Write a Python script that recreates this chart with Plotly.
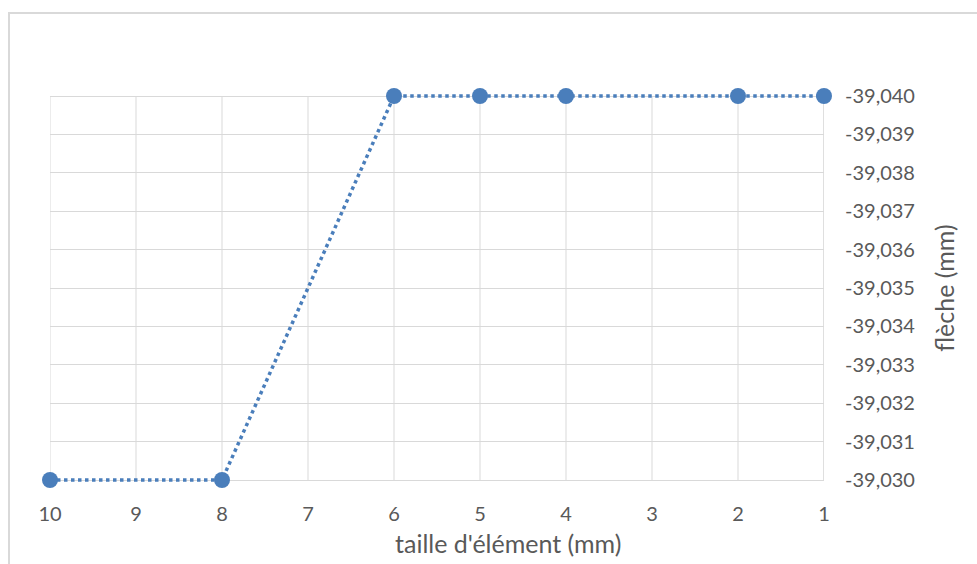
import plotly.graph_objects as go

# Deflection vs. element size
taille = [10, 8, 6, 5, 4, 2, 1]
fleche = [-39.030, -39.030, -39.040, -39.040, -39.040, -39.040, -39.040]

x_ticks = [10, 9, 8, 7, 6, 5, 4, 3, 2, 1]
y_ticks = [-39.030, -39.031, -39.032, -39.033, -39.034, -39.035,
           -39.036, -39.037, -39.038, -39.039, -39.040]
y_labels = [f"{v:.3f}".replace(".", ",") for v in y_ticks]

BLUE = "#4a7ebb"
GRID = "#d9d9d9"
TEXT = "#595959"
FONT = "Lato"

W, H = 977, 564
# outer gridlines sit at y=96 and y=480; the plot area is padded by a few
# pixels so the dotted series is not clipped along the top and bottom edges
PAD = 3
L, R, T, B = 50, 153, 96 - PAD, 84 - PAD
pw, ph = W - L - R, H - T - B
y_lo, y_hi = min(y_ticks), max(y_ticks)
y_pad = (y_hi - y_lo) / (ph - 2 * PAD) * PAD

fig = go.Figure()
fig.add_trace(go.Scatter(
    x=taille, y=fleche, mode="lines+markers",
    line=dict(color=BLUE, width=3.5, dash="3.5px,3.5px"),
    marker=dict(color=BLUE, size=16),
    cliponaxis=False,
    showlegend=False, hoverinfo="skip",
))

fig.update_layout(
    width=W, height=H,
    margin=dict(l=L, r=R, t=T, b=B, pad=0),
    paper_bgcolor="white", plot_bgcolor="white",
    font=dict(family=FONT, size=20, color=TEXT),
    xaxis=dict(
        range=[10, 1], tickvals=x_ticks, ticktext=[str(v) for v in x_ticks],
        showgrid=True, gridcolor=GRID, gridwidth=1,
        showline=False, zeroline=False, ticks="",
        ticklabelstandoff=14 + PAD,
    ),
    yaxis=dict(
        side="right", range=[y_hi + y_pad, y_lo - y_pad],
        tickvals=y_ticks, ticktext=y_labels,
        showgrid=True, gridcolor=GRID, gridwidth=1,
        showline=False, zeroline=False, ticks="", ticklabelstandoff=20,
        title=dict(text="flèche (mm)", standoff=22,
                   font=dict(family=FONT, size=25, color=TEXT)),
    ),
)

# vertical gridlines and the right-hand axis line span only the tick range
fig.update_xaxes(showgrid=False)
for xv in x_ticks:
    fig.add_shape(
        type="line", xref="x", yref="y", x0=xv, x1=xv, y0=y_lo, y1=y_hi,
        line=dict(color="#bfbfbf" if xv == min(x_ticks) else GRID, width=1),
        layer="below",
    )

# x-axis title, centred on the chart area rather than the plot area
fig.add_annotation(
    text="taille d'élément (mm)", xref="paper", yref="paper",
    x=(508 - L) / pw, y=(H - B - 543) / ph,
    xanchor="center", yanchor="middle", showarrow=False,
    font=dict(family=FONT, size=25, color=TEXT),
)

# chart-area frame, running off the right and bottom edges
fig.add_shape(
    type="rect", xref="paper", yref="paper",
    x0=(9 - L) / pw, x1=(W + 20 - L) / pw,
    y0=(H - B - (H + 20)) / ph, y1=(H - B - 13) / ph,
    line=dict(color=GRID, width=2), fillcolor="rgba(0,0,0,0)", layer="below",
)

fig.write_html("out.html")
